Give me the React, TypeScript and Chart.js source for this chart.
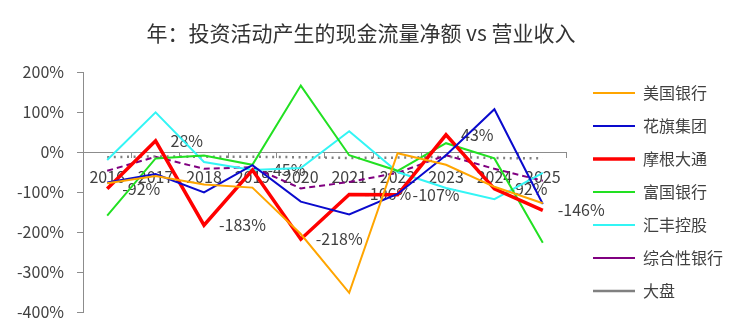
import React, { useEffect, useRef } from "react";
import { Chart, registerables } from "chart.js";

Chart.register(...registerables);

const titleText = "年：投资活动产生的现金流量净额 vs 营业收入";
const years = ["2016", "2017", "2018", "2019", "2020", "2021", "2022", "2023", "2024", "2025"];
const bofa = [-78, -60, -81, -89, -205, -352, -3, -32, -87, -128];
const citi = [-76, -55, -101, -33, -124, -156, -105, -8, 107, -130];
const jpm = [-92, 28, -183, -45, -218, -106, -107, 43, -92, -146];
const wfc = [-159, -16, -9, -32, 166, -8, -47, 22, -16, -227];
const hsbc = [-20, 99, -25, -45, -40, 52, -50, -90, -118, -52];
const diversified = [-47, -12, -42, -38, -91, -75, -52, -8, -42, -72];
const market = [-13, -11, -12, -12, -13, -15, -14, -12, -15, -16];
const seriesNames = ["美国银行", "花旗集团", "摩根大通", "富国银行", "汇丰控股", "综合性银行", "大盘"];
const yMin = -400;
const yMax = 200;
const yStep = 100;
const labelledSeries = 2;

const FONT = "'Noto Sans CJK SC', 'Noto Sans', sans-serif";
const TEXT = "#404040";
const AXIS = "#8c8c8c";

const titlePlugin = {
  id: "customTitle",
  afterDraw(chart: any) {
    const ctx = chart.ctx;
    ctx.save();
    ctx.font = `21px ${FONT}`;
    ctx.fillStyle = "#333333";
    ctx.textAlign = "center";
    ctx.textBaseline = "middle";
    ctx.fillText(titleText, chart.width / 2 - 14, 25);
    ctx.restore();
  },
};

const labelPlugin = {
  id: "pointLabels",
  beforeDatasetsDraw(chart: any) {
    const ctx = chart.ctx;
    const meta = chart.getDatasetMeta(labelledSeries);
    const data = chart.data.datasets[labelledSeries].data as number[];
    ctx.save();
    ctx.font = `16px ${FONT}`;
    ctx.fillStyle = TEXT;
    ctx.textAlign = "left";
    ctx.textBaseline = "middle";
    meta.data.forEach((pt: any, i: number) => {
      ctx.fillText(`${data[i]}%`, pt.x + 15, pt.y);
    });
    ctx.restore();
  },
};

const spacer = (position: string, axis: string, size: number) => ({
  type: "linear",
  axis,
  position,
  display: false,
  afterFit: (s: any) => {
    if (axis === "x") s.height = size;
    else s.width = size;
  },
});

export default function App() {
  const ref = useRef<HTMLCanvasElement | null>(null);
  useEffect(() => {
    if (!ref.current) return;
    const mk = (label: string, data: number[], color: string, width: number, dash: number[] = []) => ({
      label,
      data,
      borderColor: color,
      backgroundColor: color,
      borderWidth: width,
      borderDash: dash,
      pointRadius: 0,
      pointHoverRadius: 0,
      tension: 0,
      fill: false,
    });
    const chart = new Chart(ref.current, {
      type: "line",
      data: {
        labels: years,
        datasets: [
          mk(seriesNames[0], bofa, "#FFA500", 2),
          mk(seriesNames[1], citi, "#0A0ACD", 2),
          mk(seriesNames[2], jpm, "#FF0000", 3.5),
          mk(seriesNames[3], wfc, "#22E022", 2),
          mk(seriesNames[4], hsbc, "#33F5F5", 2),
          mk(seriesNames[5], diversified, "#800080", 2, [6, 4]),
          mk(seriesNames[6], market, "#808080", 2.5, [2, 4.6]),
        ],
      },
      options: {
        animation: false,
        responsive: true,
        maintainAspectRatio: false,
        layout: { padding: { top: 51, bottom: 0, left: 8, right: 9 } },
        plugins: {
          title: { display: false },
          tooltip: { enabled: false },
          legend: {
            position: "right",
            labels: {
              usePointStyle: true,
              pointStyle: "line",
              pointStyleWidth: 42,
              boxHeight: 16,
              padding: 17,
              color: TEXT,
              font: { family: FONT, size: 16 },
            },
          },
        },
        scales: {
          x: {
            type: "category",
            position: { y: 0 } as any,
            offset: true,
            grid: { offset: true, drawOnChartArea: false, drawTicks: true, tickLength: 5, color: AXIS },
            border: { display: true, color: AXIS, width: 1 },
            ticks: { color: TEXT, padding: 10, maxRotation: 0, autoSkip: false, font: { family: FONT, size: 16 } },
          },
          y: {
            type: "linear",
            min: yMin,
            max: yMax,
            position: "left",
            grid: { drawOnChartArea: false, drawTicks: true, tickLength: 6, color: AXIS },
            border: { display: true, color: AXIS, width: 1 },
            ticks: {
              stepSize: yStep,
              padding: 13,
              color: TEXT,
              font: { family: FONT, size: 16 },
              callback: (v: any) => `${v}%`,
            },
            afterFit: (s: any) => {
              s.width = 67;
              s.paddingTop = 0;
              s.paddingBottom = 0;
            },
          },
          padRight: spacer("right", "y", 9),
          padTop: spacer("top", "x", 13),
          padBottom: spacer("bottom", "x", 13),
        },
      },
      plugins: [titlePlugin, labelPlugin],
    } as any);
    return () => chart.destroy();
  }, []);
  return (
    <div style={{ position: "relative", height: 317 }}>
      <canvas ref={ref} />
    </div>
  );
}
